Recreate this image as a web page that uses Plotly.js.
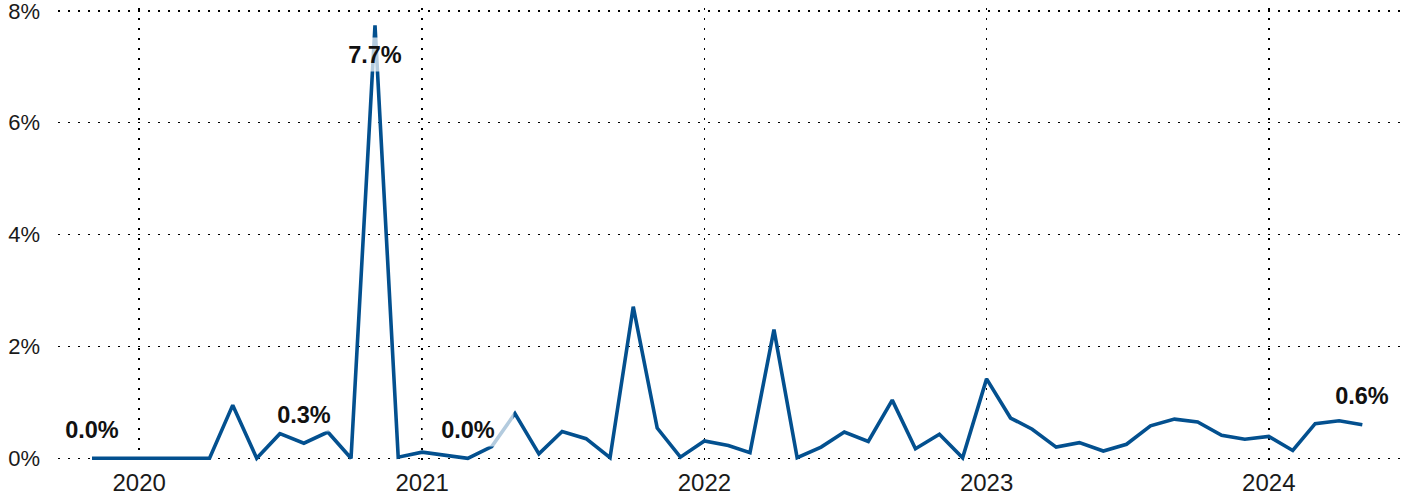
<!DOCTYPE html>
<html>
<head>
<meta charset="utf-8">
<script src="https://cdn.plot.ly/plotly-3.0.1.min.js"></script>
<style>
  html, body { margin: 0; padding: 0; background: #fff; }
  #chart { width: 1401px; height: 498px; }
</style>
</head>
<body>
<div id="chart"></div>
<script>
// Monthly values (%), Nov 2019 – May 2024
const months = [
  "2019-11-01","2019-12-01",
  "2020-01-01","2020-02-01","2020-03-01","2020-04-01","2020-05-01","2020-06-01",
  "2020-07-01","2020-08-01","2020-09-01","2020-10-01","2020-11-01","2020-12-01",
  "2021-01-01","2021-02-01","2021-03-01","2021-04-01","2021-05-01","2021-06-01",
  "2021-07-01","2021-08-01","2021-09-01","2021-10-01","2021-11-01","2021-12-01",
  "2022-01-01","2022-02-01","2022-03-01","2022-04-01","2022-05-01","2022-06-01",
  "2022-07-01","2022-08-01","2022-09-01","2022-10-01","2022-11-01","2022-12-01",
  "2023-01-01","2023-02-01","2023-03-01","2023-04-01","2023-05-01","2023-06-01",
  "2023-07-01","2023-08-01","2023-09-01","2023-10-01","2023-11-01","2023-12-01",
  "2024-01-01","2024-02-01","2024-03-01","2024-04-01","2024-05-01"
];
const values = [
  0.00, 0.00,
  0.00, 0.00, 0.00, 0.00, 0.95, 0.00,
  0.44, 0.27, 0.47, 0.00, 7.74, 0.02,
  0.11, 0.06, 0.00, 0.21, 0.80, 0.08,
  0.48, 0.35, 0.01, 2.71, 0.54, 0.02,
  0.31, 0.23, 0.10, 2.30, 0.01, 0.20,
  0.47, 0.30, 1.04, 0.17, 0.43, 0.01,
  1.42, 0.72, 0.52, 0.20, 0.28, 0.13,
  0.25, 0.58, 0.70, 0.65, 0.41, 0.34,
  0.39, 0.14, 0.62, 0.67, 0.60
];
// Labelled points
const labelMonths = ["2019-11-01", "2020-08-01", "2020-11-01", "2021-03-01", "2024-05-01"];
const labelBelow  = [false, false, true, false, false];

const yTickVals = [0, 2, 4, 6, 8];
const yTickText = ["0%", "2%", "4%", "6%", "8%"];

const FONT = "Liberation Sans, Arial, Helvetica, sans-serif";

const trace = {
  type: "scatter",
  mode: "lines",
  x: months,
  y: values,
  line: { color: "#03508f", width: 3.6 },
  hoverinfo: "x+y"
};

const annotations = labelMonths.map((m, i) => {
  const idx = months.indexOf(m);
  const v = values[idx];
  return {
    x: m, y: v, xref: "x", yref: "y",
    text: "<b>" + v.toFixed(1) + "%</b>",
    showarrow: false,
    xanchor: "center", yanchor: "middle",
    yshift: labelBelow[i] ? -29 : 29,
    width: 90, height: 33,
    bgcolor: "rgba(255,255,255,0.7)",
    borderpad: 0,
    font: { family: FONT, size: 23.5, color: "#111" }
  };
});

const layout = {
  width: 1401, height: 498,
  margin: { l: 58, r: 0, t: 8, b: 33, pad: 0 },
  paper_bgcolor: "#fff", plot_bgcolor: "#fff",
  showlegend: false,
  font: { family: FONT, color: "#1a1a1a" },
  xaxis: {
    type: "date",
    range: ["2019-09-18", "2024-06-20"],
    tick0: "2020-01-01", dtick: "M12", tickformat: "%Y",
    showgrid: true, gridcolor: "#000", gridwidth: 1.5, griddash: "2px,8px",
    zeroline: false, showline: false, ticks: "",
    ticklabelstandoff: 1,
    ticklabeloverflow: "allow",
    tickfont: { family: FONT, size: 24, color: "#1a1a1a" }
  },
  yaxis: {
    range: [-0.12, 8.05],
    tickvals: yTickVals, ticktext: yTickText,
    showgrid: true, gridcolor: "#000", gridwidth: 1.5, griddash: "2px,8px",
    zeroline: false, showline: false, ticks: "",
    ticklabelstandoff: 17,
    ticklabeloverflow: "allow",
    tickfont: { family: FONT, size: 22, color: "#1a1a1a" }
  },
  annotations: annotations
};

Plotly.newPlot("chart", [trace], layout, { displayModeBar: false, staticPlot: true });
</script>
</body>
</html>
